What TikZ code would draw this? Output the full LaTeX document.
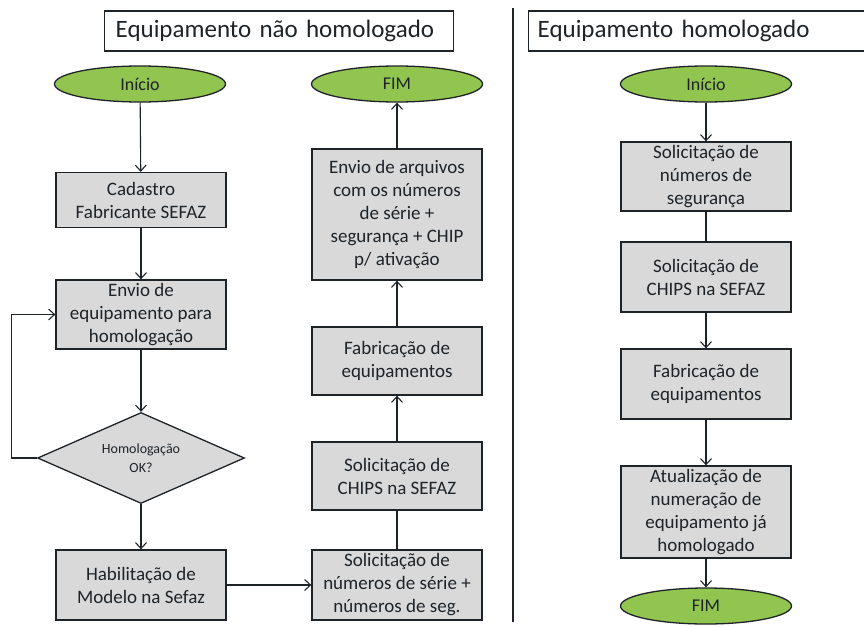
\documentclass[tikz,border=0pt]{standalone}
\usepackage{fontspec}
\setmainfont{Carlito}
\usetikzlibrary{arrows.meta,shapes.geometric}
\definecolor{boxgray}{RGB}{217,217,217}
\definecolor{startgreen}{RGB}{146,196,80}
\definecolor{edge}{RGB}{30,35,40}
\begin{document}
\begin{tikzpicture}[x=1pt,y=-1pt,
  every node/.style={text=edge},
  procbox/.style={draw=edge,line width=1.3pt,fill=boxgray,minimum width=170pt,inner sep=0pt,align=center,font=\fontsize{19}{23}\selectfont},
  termnode/.style={draw=edge,line width=1.3pt,fill=startgreen,ellipse,minimum width=171pt,minimum height=36pt,inner sep=0pt,font=\fontsize{18}{20}\selectfont},
  titlebox/.style={draw=edge,line width=1.3pt,fill=white,inner sep=0pt,minimum height=40pt,anchor=west,align=left,font=\fontsize{25}{30}\selectfont},
  decision/.style={draw=edge,line width=1.3pt,fill=boxgray,diamond,shape aspect=2.27,minimum width=207pt,minimum height=91pt,inner sep=0pt,align=center,font=\fontsize{14}{19}\selectfont},
  arr/.style={draw=edge,line width=1.1pt,-{Straight Barb[length=6pt,width=11pt]}},
  plain/.style={draw=edge,line width=1.1pt}]
\useasboundingbox (0,0) rectangle (864,626);

% titles
\node[titlebox,text width=349pt] (t1) at (104,31) {\hspace*{11pt}Equipamento não homologado};
\node[titlebox,text width=336pt] (t2) at (528,31) {\hspace*{9pt}Equipamento homologado};
\coordinate (sepA) at (513,8);
\coordinate (sepB) at (513,622);
\draw[plain] (sepA) -- (sepB);

% left column
\node[termnode] (ini1) at (140,84) {Início};
\node[procbox,minimum height=55pt] (cad) at (141,200) {Cadastro\\Fabricante SEFAZ};
\node[procbox,minimum height=69pt] (env) at (141,314.5) {Envio de\\equipamento para\\homologação};
\node[decision] (dia) at (141,458) {Homologação\\OK?};
\node[procbox,minimum height=70pt] (hab) at (141,585) {Habilitação de\\Modelo na Sefaz};

% middle column
\node[termnode] (fim1) at (397,84) {FIM};
\node[procbox,minimum height=131pt] (arq) at (397,214.5) {Envio de arquivos\\com os números\\de série +\\segurança + CHIP\\p/ ativação};
\node[procbox,minimum height=68pt] (fab1) at (397,361) {Fabricação de\\equipamentos};
\node[procbox,minimum height=68pt] (chip1) at (397,476) {Solicitação de\\CHIPS na SEFAZ};
\node[procbox,minimum height=70pt] (num1) at (397,585) {Solicitação de\\números de série +\\números de seg.};

% right column
\node[termnode] (ini2) at (706,84) {Início};
\node[procbox,minimum height=69pt] (seg2) at (706,176.5) {Solicitação de\\números de\\segurança};
\node[procbox,minimum height=70pt] (chip2) at (706,277) {Solicitação de\\CHIPS na SEFAZ};
\node[procbox,minimum height=70pt] (fab2) at (706,384) {Fabricação de\\equipamentos};
\node[procbox,minimum height=92pt] (atu2) at (706,512) {Atualização de\\numeração de\\equipamento já\\homologado};
\node[termnode] (fim2) at (706,606) {FIM};

% connectors left
\draw[arr] (ini1) -- (cad);
\draw[arr] (cad) -- (env);
\draw[arr] (env) -- (dia);
\draw[arr] (dia) -- (hab);
\draw[arr] (dia.west) -- ++(-25,0) |- (env.west);
\draw[arr] (hab) -- (num1);
\draw[plain] (num1) -- (chip1);
\draw[arr] (chip1) -- (fab1);
\draw[arr] (fab1) -- (arq);
\draw[arr] (arq) -- (fim1);

% connectors right
\draw[arr] (ini2) -- (seg2);
\draw[plain] (seg2) -- (chip2);
\draw[arr] (chip2) -- (fab2);
\draw[arr] (fab2) -- (atu2);
\draw[arr] (atu2) -- (fim2);
\end{tikzpicture}
\end{document}
